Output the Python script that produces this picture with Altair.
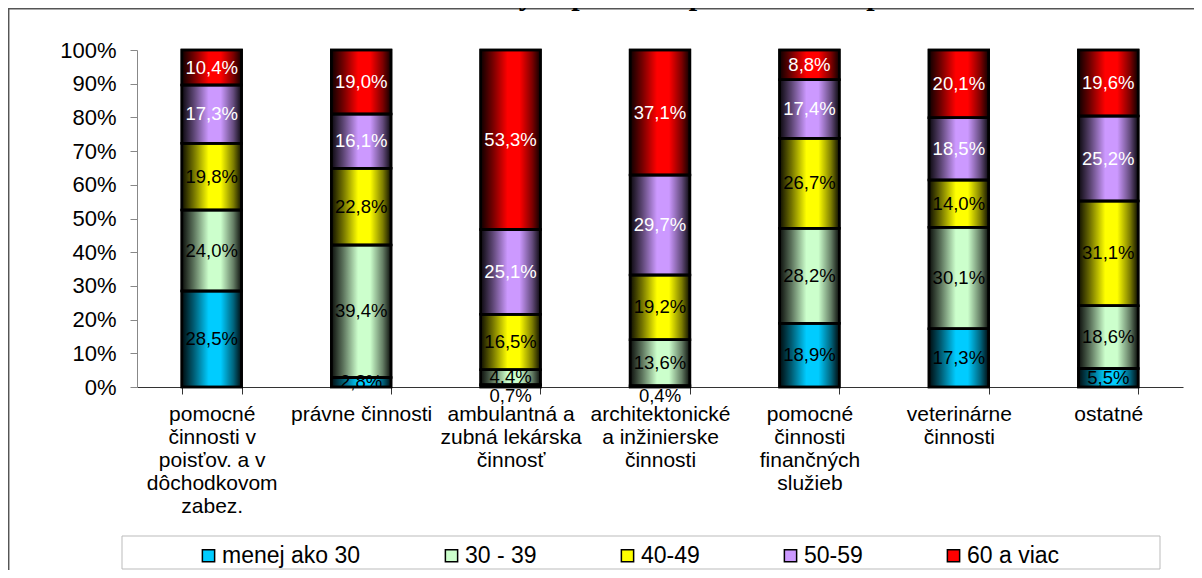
import altair as alt
import pandas as pd

# ---- data ----
categories = [
    "pomocné|činnosti v|poisťov. a v|dôchodkovom|zabez.",
    "právne činnosti",
    "ambulantná a|zubná lekárska|činnosť",
    "architektonické|a inžinierske|činnosti",
    "pomocné|činnosti|finančných|služieb",
    "veterinárne|činnosti",
    "ostatné",
]
series = ["menej ako 30", "30 - 39", "40-49", "50-59", "60 a viac"]
v_menej_30 = [28.5, 2.8, 0.7, 0.4, 18.9, 17.3, 5.5]
v_30_39 = [24.0, 39.4, 4.4, 13.6, 28.2, 30.1, 18.6]
v_40_49 = [19.8, 22.8, 16.5, 19.2, 26.7, 14.0, 31.1]
v_50_59 = [17.3, 16.1, 25.1, 29.7, 17.4, 18.5, 25.2]
v_60_viac = [10.4, 19.0, 53.3, 37.1, 8.8, 20.1, 19.6]
colors = ["#00CCFF", "#CCFFCC", "#FFFF00", "#CC99FF", "#FF0000"]
y_ticks = [0, 0.1, 0.2, 0.3, 0.4, 0.5, 0.6, 0.7, 0.8, 0.9, 1.0]
title_text = "Graf č. 13: Veková štruktúra slobodných povolaní podľa oblasti podnikania v roku 2012"

values = [v_menej_30, v_30_39, v_40_49, v_50_59, v_60_viac]
rows = []
for ci, cat in enumerate(categories):
    for si, s in enumerate(series):
        rows.append({"cat": cat, "series": s, "order": si, "value": values[si][ci]})
df = pd.DataFrame(rows)

FONT = "Liberation Sans"

stacked = alt.Chart(df).transform_stack(
    stack="value",
    groupby=["cat"],
    as_=["y0", "y1"],
    offset="normalize",
    sort=[alt.SortField("order", order="ascending")],
)

x_axis = alt.Axis(
    title=None,
    labelAngle=0,
    labelExpr="split(datum.label, '|')",
    tickBand="extent",
    labelFont=FONT,
    labelFontSize=21,
    labelColor="black",
    labelLineHeight=23,
    labelPadding=9,
    labelLimit=300,
    labelOverlap=False,
    tickSize=7,
    domainColor="#333333",
    tickColor="#333333",
    domainWidth=1.2,
)
y_axis = alt.Axis(
    title=None,
    values=y_ticks,
    format=".0%",
    grid=False,
    labelOverlap=False,
    labelSeparation=0,
    labelFont=FONT,
    labelFontSize=22,
    labelColor="black",
    labelPadding=14,
    tickSize=7,
    domainColor="#888888",
    tickColor="#888888",
)
x_scale = alt.Scale(paddingInner=0.6, paddingOuter=0.3)
y_scale = alt.Scale(domain=[0, 1], nice=False)

base = stacked.mark_bar(stroke="black", strokeWidth=2.5).encode(
    x=alt.X("cat:N", sort=categories, scale=x_scale, axis=x_axis),
    y=alt.Y("y0:Q", scale=y_scale, axis=y_axis),
    y2=alt.Y2("y1:Q"),
    color=alt.Color(
        "series:N",
        scale=alt.Scale(domain=series, range=colors),
        legend=alt.Legend(
            title=None,
            orient="none",
            legendX=60,
            legendY=494,
            direction="horizontal",
            symbolType="square",
            symbolSize=150,
            symbolStrokeColor="black",
            symbolStrokeWidth=1.5,
            labelFont=FONT,
            labelFontSize=23,
            labelColor="black",
            labelOffset=2,
            columnPadding=79,
            padding=0,
        ),
    ),
    order=alt.Order("order:Q"),
)

shade = stacked.mark_bar(
    stroke="black",
    strokeWidth=2.5,
    color=alt.Gradient(
        gradient="linear",
        x1=0, x2=1, y1=0, y2=0,
        stops=[
            alt.GradientStop(color="rgba(0,0,0,0.95)", offset=0),
            alt.GradientStop(color="rgba(0,0,0,0.55)", offset=0.2),
            alt.GradientStop(color="rgba(0,0,0,0)", offset=0.45),
            alt.GradientStop(color="rgba(0,0,0,0)", offset=0.65),
            alt.GradientStop(color="rgba(0,0,0,0.5)", offset=0.86),
            alt.GradientStop(color="rgba(0,0,0,0.95)", offset=1),
        ],
    ),
).encode(
    x=alt.X("cat:N", sort=categories, scale=x_scale, axis=x_axis),
    y=alt.Y("y0:Q", scale=y_scale, axis=y_axis),
    y2="y1:Q",
)

labels = stacked.transform_calculate(
    mid="(datum.y0 + datum.y1) / 2",
).transform_calculate(
    ly="datum.value < 1 ? datum.mid - 0.03 : datum.mid",
    lbl="replace(format(datum.value, '.1f'), '.', ',') + '%'",
).mark_text(font=FONT, fontSize=18.5, baseline="middle", align="center").encode(
    x=alt.X("cat:N", sort=categories, scale=x_scale, axis=x_axis),
    y=alt.Y("ly:Q", scale=y_scale, axis=y_axis),
    text="lbl:N",
    color=alt.condition(
        alt.FieldOneOfPredicate(field="series", oneOf=["50-59", "60 a viac"]),
        alt.value("white"),
        alt.value("black"),
    ),
)

deco = alt.Chart(alt.Data(values=[{"d": 1}]))
frame_top = deco.mark_rule(color="#555555", strokeWidth=1.5).encode(
    x=alt.value(-129), x2=alt.value(1100), y=alt.value(-41.3)
)
frame_left = deco.mark_rule(color="#555555", strokeWidth=1.5).encode(
    x=alt.value(-128.3), y=alt.value(-42), y2=alt.value(600)
)
legend_box = deco.mark_rect(filled=False, stroke="#BBBBBB", strokeWidth=1).encode(
    x=alt.value(-15), x2=alt.value(1023), y=alt.value(486), y2=alt.value(519)
)
title = deco.mark_text(
    text=title_text,
    align="left",
    baseline="alphabetic",
    font="Liberation Serif",
    fontSize=30,
    fontWeight="bold",
    color="black",
).encode(x=alt.value(-95), y=alt.value(-45))

chart = alt.layer(
    legend_box, frame_top, frame_left, title, base, shade, labels
).properties(
    width=1046,
    height=337,
    autosize=alt.AutoSizeParams(type="none"),
    padding={"left": 129, "top": 42, "right": 11, "bottom": 183},
    background="white",
).configure_view(stroke=None).configure_axisY(
    labelOverlap=False, labelSeparation=0
).configure_axis(labelOverlap=False)

chart.save("out.html", embed_options={"renderer": "svg", "actions": False})
